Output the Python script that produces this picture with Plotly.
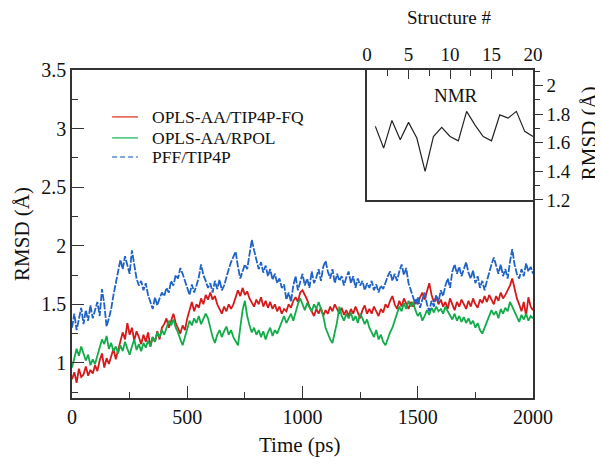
import plotly.graph_objects as go

time_ps = list(range(0, 2001, 10))

pff_tip4p = [
1.30,1.42,1.28,1.38,1.47,1.33,1.45,1.36,1.49,1.38,
1.44,1.52,1.40,1.63,1.50,1.31,1.38,1.46,1.58,1.67,
1.78,1.88,1.80,1.91,1.84,1.76,1.96,1.85,1.72,1.66,
1.70,1.62,1.68,1.58,1.52,1.46,1.56,1.49,1.55,1.60,
1.57,1.64,1.60,1.70,1.66,1.75,1.72,1.81,1.76,1.70,
1.64,1.58,1.67,1.60,1.66,1.73,1.84,1.75,1.70,1.64,
1.68,1.60,1.70,1.63,1.71,1.62,1.66,1.74,1.80,1.86,
1.90,1.95,1.82,1.72,1.78,1.84,1.80,1.91,2.05,1.96,
1.88,1.80,1.86,1.77,1.83,1.74,1.80,1.71,1.76,1.68,
1.72,1.64,1.67,1.54,1.60,1.52,1.66,1.74,1.62,1.70,
1.76,1.66,1.72,1.64,1.78,1.68,1.73,1.80,1.70,1.82,
1.87,1.78,1.72,1.80,1.68,1.76,1.70,1.74,1.66,1.73,
1.78,1.68,1.74,1.64,1.72,1.66,1.70,1.62,1.68,1.64,
1.70,1.62,1.67,1.60,1.66,1.63,1.69,1.74,1.78,1.70,
1.76,1.70,1.78,1.84,1.75,1.81,1.68,1.62,1.56,1.50,
1.56,1.47,1.54,1.60,1.50,1.44,1.53,1.48,1.58,1.52,
1.62,1.57,1.66,1.72,1.64,1.78,1.84,1.76,1.82,1.74,
1.80,1.86,1.77,1.72,1.79,1.68,1.74,1.64,1.70,1.62,
1.70,1.78,1.84,1.90,1.82,1.76,1.84,1.74,1.80,1.72,
1.86,1.97,1.84,1.76,1.72,1.80,1.74,1.85,1.78,1.82,
1.76]

opls_tip4pfq = [
0.86,0.92,0.83,0.95,0.88,0.90,0.97,0.89,0.94,0.91,
0.98,0.93,1.02,1.08,0.96,1.04,0.99,1.06,1.12,1.03,
1.10,1.18,1.26,1.20,1.34,1.24,1.30,1.19,1.27,1.22,
1.16,1.24,1.18,1.26,1.14,1.22,1.18,1.27,1.20,1.30,
1.33,1.38,1.30,1.36,1.42,1.34,1.30,1.25,1.32,1.28,
1.38,1.46,1.52,1.44,1.50,1.47,1.55,1.50,1.58,1.54,
1.60,1.54,1.57,1.50,1.46,1.42,1.48,1.44,1.50,1.46,
1.50,1.56,1.62,1.57,1.64,1.58,1.61,1.55,1.52,1.48,
1.54,1.50,1.56,1.48,1.53,1.47,1.52,1.46,1.50,1.44,
1.48,1.42,1.46,1.44,1.50,1.47,1.53,1.56,1.52,1.60,
1.62,1.58,1.54,1.48,1.44,1.40,1.46,1.42,1.47,1.40,
1.45,1.42,1.48,1.44,1.50,1.46,1.42,1.47,1.41,1.45,
1.40,1.46,1.42,1.48,1.43,1.38,1.45,1.49,1.42,1.46,
1.42,1.48,1.44,1.40,1.46,1.43,1.50,1.47,1.53,1.57,
1.50,1.46,1.53,1.48,1.55,1.50,1.46,1.52,1.48,1.54,
1.50,1.56,1.60,1.54,1.62,1.68,1.58,1.52,1.56,1.50,
1.54,1.48,1.52,1.46,1.55,1.50,1.45,1.52,1.48,1.54,
1.50,1.46,1.53,1.48,1.55,1.50,1.47,1.54,1.51,1.57,
1.52,1.58,1.54,1.50,1.57,1.53,1.60,1.55,1.58,1.62,
1.66,1.72,1.62,1.55,1.50,1.44,1.52,1.40,1.56,1.48,
1.45]

opls_rpol = [
0.96,1.04,1.12,1.06,1.14,1.08,1.02,1.07,0.98,1.03,
0.99,1.06,1.14,1.20,1.16,1.23,1.12,1.17,1.10,1.14,
1.08,1.15,1.10,1.18,1.12,1.07,1.14,1.20,1.11,1.16,
1.10,1.17,1.13,1.19,1.14,1.22,1.18,1.26,1.22,1.28,
1.24,1.30,1.36,1.32,1.37,1.30,1.26,1.20,1.15,1.22,
1.30,1.36,1.32,1.38,1.34,1.40,1.33,1.37,1.42,1.38,
1.30,1.22,1.17,1.24,1.28,1.22,1.27,1.31,1.24,1.28,
1.22,1.18,1.15,1.30,1.45,1.53,1.40,1.32,1.26,1.30,
1.24,1.28,1.22,1.27,1.20,1.26,1.30,1.23,1.28,1.25,
1.30,1.36,1.40,1.34,1.38,1.42,1.36,1.44,1.50,1.55,
1.50,1.45,1.51,1.47,1.44,1.50,1.46,1.52,1.45,1.40,
1.30,1.24,1.20,1.17,1.26,1.35,1.48,1.40,1.36,1.42,
1.38,1.43,1.36,1.40,1.34,1.42,1.38,1.33,1.37,1.30,
1.26,1.22,1.28,1.20,1.24,1.18,1.15,1.21,1.26,1.30,
1.36,1.42,1.48,1.44,1.51,1.46,1.53,1.48,1.52,1.45,
1.40,1.43,1.36,1.40,1.45,1.41,1.47,1.43,1.48,1.44,
1.46,1.42,1.48,1.44,1.40,1.37,1.42,1.36,1.40,1.35,
1.39,1.34,1.38,1.33,1.36,1.30,1.34,1.28,1.25,1.30,
1.36,1.40,1.45,1.41,1.44,1.38,1.46,1.42,1.47,1.44,
1.52,1.48,1.44,1.40,1.35,1.41,1.37,1.42,1.36,1.40,
1.38]

structure_num = list(range(1, 21))
nmr_rmsd = [1.715, 1.563, 1.757, 1.621, 1.743, 1.633, 1.399, 1.644, 1.708, 1.644,
            1.614, 1.820, 1.726, 1.644, 1.614, 1.796, 1.773, 1.820, 1.680, 1.644]

series_names = ["OPLS-AA/TIP4P-FQ", "OPLS-AA/RPOL", "PFF/TIP4P"]

main_xticks = [0, 500, 1000, 1500, 2000]
main_yticks = [1, 1.5, 2, 2.5, 3, 3.5]
inset_xticks = [0, 5, 10, 15, 20]
inset_yticks = [1.2, 1.4, 1.6, 1.8, 2]

FONT = "Liberation Serif"
RED = "#d41a1a"
GREEN = "#12ad4a"
BLUE = "#1f63c6"
AX = "#333333"
TXT = "#111111"

fig = go.Figure()
fig.add_trace(go.Scatter(x=time_ps, y=opls_tip4pfq, mode="lines", name=series_names[0],
                         line=dict(color=RED, width=1.8)))
fig.add_trace(go.Scatter(x=time_ps, y=opls_rpol, mode="lines", name=series_names[1],
                         line=dict(color=GREEN, width=1.8)))
fig.add_trace(go.Scatter(x=time_ps, y=pff_tip4p, mode="lines", name=series_names[2],
                         line=dict(color=BLUE, width=1.8, dash="7px,1.5px")))
fig.add_trace(go.Scatter(x=structure_num, y=nmr_rmsd, mode="lines",
                         line=dict(color="#222222", width=1.2), xaxis="x2", yaxis="y2"))

# manual legend (line samples + labels)
legend_rows = [0.857, 0.793, 0.735]
legend_styles = [dict(color="#e0553f", width=1.5),
                 dict(color="#3cc274", width=1.5),
                 dict(color="#5a86d6", width=1.5, dash="5px,3px")]
for name, yy, st in zip(series_names, legend_rows, legend_styles):
    fig.add_shape(type="line", xref="paper", yref="paper", x0=0.087, x1=0.143, y0=yy, y1=yy,
                  line=st)
    fig.add_annotation(xref="paper", yref="paper", x=0.169, y=yy, text=name, showarrow=False,
                       xanchor="left", yanchor="middle",
                       font=dict(family=FONT, size=17.5, color=TXT))

fig.add_annotation(x=10.7, y=1.93, xref="x2", yref="y2", text="NMR", showarrow=False,
                   font=dict(family=FONT, size=19, color=TXT))

# axis titles
fig.add_annotation(xref="paper", yref="paper", x=0.495, y=-0.143, text="Time (ps)",
                   showarrow=False, xanchor="center", yanchor="middle",
                   font=dict(family=FONT, size=21, color=TXT))
fig.add_annotation(xref="paper", yref="paper", x=-0.1085, y=0.5, text="RMSD (Å)",
                   showarrow=False, xanchor="center", yanchor="middle", textangle=-90,
                   font=dict(family=FONT, size=21, color=TXT))
fig.add_annotation(xref="paper", yref="paper", x=0.818, y=1.159, text="Structure #",
                   showarrow=False, xanchor="center", yanchor="middle",
                   font=dict(family=FONT, size=19, color=TXT))
fig.add_annotation(xref="paper", yref="paper", x=1.122, y=0.808, text="RMSD (Å)",
                   showarrow=False, xanchor="center", yanchor="middle", textangle=-90,
                   font=dict(family=FONT, size=21, color=TXT))

# the page body adds an 8px offset, so the figure is 8px smaller and margins shifted
fig.update_layout(
    width=595, height=462,
    margin=dict(l=64, r=70, t=62, b=72, autoexpand=False),
    paper_bgcolor="white", plot_bgcolor="white",
    font=dict(family=FONT, size=20, color=TXT),
    showlegend=False,
    xaxis=dict(domain=[0, 1], range=[0, 2000], tickvals=main_xticks, automargin=False,
               ticks="inside", ticklen=12, tickwidth=1.3, tickcolor=AX,
               minor=dict(dtick=250, ticks="inside", ticklen=6, tickwidth=1.3, tickcolor=AX),
               showline=True, linecolor=AX, linewidth=1.5, mirror=True,
               showgrid=False, zeroline=False, tickfont=dict(size=20)),
    yaxis=dict(domain=[0, 1], range=[0.7, 3.5], tickvals=main_yticks, automargin=False,
               ticks="inside", ticklen=12, tickwidth=1.3, tickcolor=AX,
               minor=dict(dtick=0.25, tick0=0, ticks="inside", ticklen=6, tickwidth=1.3, tickcolor=AX),
               showline=True, linecolor=AX, linewidth=1.5, mirror=True,
               showgrid=False, zeroline=False, tickfont=dict(size=20)),
    xaxis2=dict(domain=[0.64, 1.0], anchor="y2", side="top", range=[0, 20],
                tickvals=inset_xticks, automargin=False,
                ticks="inside", ticklen=9, tickwidth=1.3, tickcolor=AX,
                minor=dict(dtick=2.5, tick0=0, ticks="inside", ticklen=6, tickwidth=1.3, tickcolor=AX),
                showline=True, linecolor=AX, linewidth=1.5, mirror=True,
                showgrid=False, zeroline=False, tickfont=dict(size=19)),
    yaxis2=dict(domain=[0.604, 1.0], anchor="x2", side="right", range=[1.2, 2.11],
                tickvals=inset_yticks, automargin=False,
                ticks="outside", ticklen=8, tickwidth=1.3, tickcolor=AX,
                minor=dict(dtick=0.1, tick0=0, ticks="outside", ticklen=5, tickwidth=1.3, tickcolor=AX),
                showline=True, linecolor=AX, linewidth=1.5, mirror=True,
                showgrid=False, zeroline=False, tickfont=dict(size=19)),
)

fig.write_html("out.html")
